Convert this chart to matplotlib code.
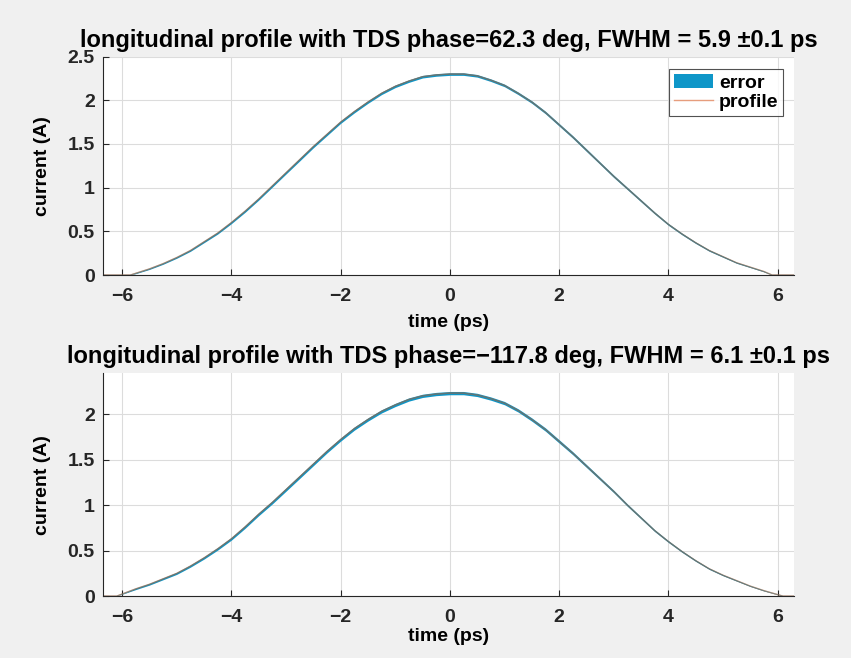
import numpy as np
import matplotlib.pyplot as plt

# profile 1 (TDS phase 62.3 deg)
t1 = [-6.35, -5.85, -5.75, -5.5, -5.25, -5.0, -4.75, -4.5, -4.25, -4.0, -3.75, -3.5, -3.25,
      -3.0, -2.75, -2.5, -2.25, -2.0, -1.75, -1.5, -1.25, -1.0, -0.75, -0.5, -0.25, 0.0,
      0.25, 0.5, 0.75, 1.0, 1.25, 1.5, 1.75, 2.0, 2.25, 2.5, 2.75, 3.0, 3.25, 3.5, 3.75,
      4.0, 4.25, 4.5, 4.75, 5.0, 5.25, 5.5, 5.75, 5.9, 6.3]
i1 = [0.0, 0.0, 0.02, 0.07, 0.13, 0.2, 0.28, 0.38, 0.48, 0.6, 0.73, 0.87, 1.02,
      1.17, 1.32, 1.47, 1.61, 1.75, 1.87, 1.98, 2.08, 2.16, 2.22, 2.27, 2.29, 2.3,
      2.3, 2.28, 2.23, 2.17, 2.08, 1.98, 1.86, 1.72, 1.58, 1.43, 1.28, 1.13, 0.99, 0.85, 0.71,
      0.58, 0.47, 0.37, 0.28, 0.21, 0.14, 0.09, 0.04, 0.0, 0.0]
e1 = [0.0, 0.0, 0.004, 0.006, 0.007, 0.008, 0.009, 0.01, 0.011, 0.012, 0.013, 0.013, 0.014,
      0.014, 0.015, 0.015, 0.015, 0.015, 0.015, 0.015, 0.015, 0.015, 0.015, 0.015, 0.015, 0.015,
      0.015, 0.015, 0.015, 0.015, 0.015, 0.015, 0.015, 0.015, 0.015, 0.015, 0.014, 0.014, 0.013, 0.013, 0.012,
      0.011, 0.01, 0.009, 0.008, 0.007, 0.006, 0.005, 0.004, 0.0, 0.0]

# profile 2 (TDS phase -117.8 deg)
t2 = [-6.35, -6.1, -5.75, -5.5, -5.25, -5.0, -4.75, -4.5, -4.25, -4.0, -3.75, -3.5, -3.25,
      -3.0, -2.75, -2.5, -2.25, -2.0, -1.75, -1.5, -1.25, -1.0, -0.75, -0.5, -0.25, 0.0,
      0.25, 0.5, 0.75, 1.0, 1.25, 1.5, 1.75, 2.0, 2.25, 2.5, 2.75, 3.0, 3.25, 3.5, 3.75,
      4.0, 4.25, 4.5, 4.75, 5.0, 5.25, 5.5, 5.75, 6.1, 6.3]
i2 = [0.0, 0.0, 0.08, 0.13, 0.19, 0.25, 0.33, 0.42, 0.52, 0.63, 0.76, 0.9, 1.03,
      1.17, 1.31, 1.45, 1.59, 1.72, 1.84, 1.94, 2.03, 2.1, 2.16, 2.2, 2.22, 2.23,
      2.23, 2.21, 2.17, 2.12, 2.04, 1.94, 1.83, 1.7, 1.57, 1.43, 1.29, 1.15, 1.0, 0.86, 0.72,
      0.6, 0.49, 0.39, 0.3, 0.23, 0.17, 0.11, 0.06, 0.0, 0.0]
e2 = [0.0, 0.0, 0.008, 0.009, 0.01, 0.011, 0.012, 0.013, 0.014, 0.015, 0.016, 0.017, 0.017,
      0.018, 0.018, 0.018, 0.018, 0.018, 0.018, 0.018, 0.018, 0.018, 0.018, 0.018, 0.018, 0.018,
      0.018, 0.018, 0.018, 0.018, 0.018, 0.018, 0.018, 0.018, 0.017, 0.016, 0.015, 0.014, 0.013, 0.012, 0.011,
      0.01, 0.009, 0.008, 0.007, 0.006, 0.005, 0.004, 0.003, 0.0, 0.0]

titles = ["longitudinal profile with TDS phase=62.3 deg, FWHM = 5.9 \u00b10.1 ps",
          "longitudinal profile with TDS phase=\u2212117.8 deg, FWHM = 6.1 \u00b10.1 ps"]
xticks = [-6, -4, -2, 0, 2, 4, 6]

plt.rcParams['font.family'] = ['Liberation Sans', 'DejaVu Sans']
plt.rcParams['font.weight'] = 'bold'

fig = plt.figure(figsize=(8.51, 6.58), dpi=100, facecolor='#f0f0f0')
ax1 = fig.add_axes([0.121, 0.582, 0.812, 0.332])
ax2 = fig.add_axes([0.121, 0.094, 0.812, 0.339])

data = [(t1, i1, e1, 2.5, [0, 0.5, 1, 1.5, 2, 2.5], 7),
        (t2, i2, e2, 2.45, [0, 0.5, 1, 1.5, 2], 2)]

for ax, (t, cur, err, ytop, yt, lp), title in zip([ax1, ax2], data, titles):
    t = np.array(t)
    cur = np.array(cur)
    err = np.array(err)
    ax.fill_between(t, cur - err, cur + err, color='#0e96c8', lw=0, label='error')
    ax.plot(t, cur, color='#d95319', lw=1.0, alpha=0.55, label='profile')
    ax.plot(t, cur, color='#4a7a80', lw=0.8, alpha=0.6)
    ax.set_xlim(-6.35, 6.3)
    ax.set_ylim(0, ytop)
    ax.set_xticks(xticks)
    ax.set_xticklabels(['\u2212' + str(-v) if v < 0 else str(v) for v in xticks])
    ax.set_yticks(yt)
    ax.set_yticklabels([('%g' % v) for v in yt])
    ax.grid(True, color='#dcdcdc', lw=0.8)
    ax.set_axisbelow(True)
    for s in ['top', 'right']:
        ax.spines[s].set_visible(False)
    for s in ['left', 'bottom']:
        ax.spines[s].set_color('#262626')
    ax.tick_params(direction='in', length=4, labelsize=14, colors='#262626', pad=6)
    ax.tick_params(axis='x', pad=9)
    ax.set_title(title, fontsize=17, fontweight='bold', pad=7)
    ax.set_xlabel('time (ps)', fontsize=14, fontweight='bold', labelpad=lp)
    ax.set_ylabel('current (A)', fontsize=14, fontweight='bold', labelpad=12)

handles, labels = ax1.get_legend_handles_labels()
leg = ax1.legend(handles[:2], labels[:2], loc='upper right', bbox_to_anchor=(0.99, 0.96),
                 fontsize=14, frameon=True, fancybox=False, edgecolor='#262626',
                 handlelength=2.0, handletextpad=0.3, borderpad=0.25, labelspacing=0.1,
                 borderaxespad=0.2)
leg.get_frame().set_linewidth(0.8)

fig.savefig('out.png', dpi=100, facecolor=fig.get_facecolor())
